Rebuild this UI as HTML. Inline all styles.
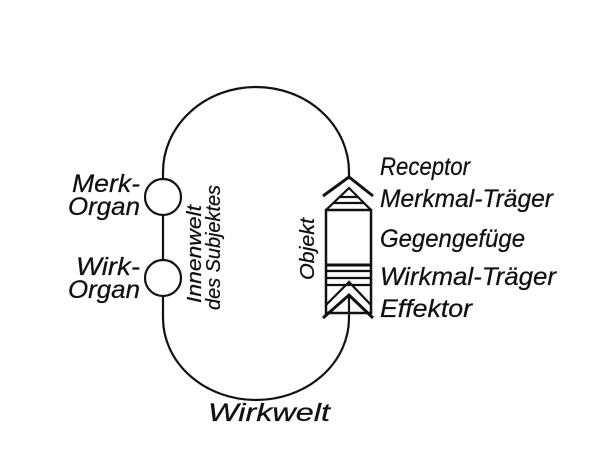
<!DOCTYPE html>
<html><head><style>
body{margin:0;background:#fff}
svg text{font-family:"Liberation Sans",sans-serif;font-style:italic;fill:#111;stroke:#111;stroke-width:0.25}
</style></head><body>
<svg width="605" height="471" viewBox="0 0 605 471" xmlns="http://www.w3.org/2000/svg">
<g fill="none" stroke="#111" stroke-width="2.2">
<path d="M163,179 L163,172 A93,85 0 0 1 349,172 L349,177"/>
<path d="M163,296 L163,318 A93,82 0 0 0 349,318 L349,294"/>
<circle cx="163" cy="197" r="18"/>
<circle cx="163" cy="278" r="18"/>
<line x1="163" y1="215" x2="163" y2="260"/>
<polyline points="323,196 349,177 373,196" stroke-width="3"/>
<rect x="326" y="210" width="45" height="103" stroke-width="2.5"/>
<polyline points="326,210 349,188 371,210"/>
<line x1="340" y1="197" x2="358" y2="197"/>
<line x1="334" y1="203" x2="364" y2="203"/>
<line x1="326" y1="265" x2="371" y2="265" stroke-width="3"/>
<line x1="326" y1="271" x2="371" y2="271"/>
<line x1="326" y1="278" x2="371" y2="278"/>
<line x1="326" y1="285" x2="371" y2="285"/>
<polyline points="326,305 349,282 371,305"/>
<polyline points="323,318 349,295 373,318" stroke-width="3"/>
</g>
<text x="380" y="175" font-size="25" textLength="90" lengthAdjust="spacingAndGlyphs">Receptor</text>
<text x="380" y="207" font-size="25" textLength="173" lengthAdjust="spacingAndGlyphs">Merkmal-Träger</text>
<text x="380" y="247" font-size="25" textLength="145" lengthAdjust="spacingAndGlyphs">Gegengefüge</text>
<text x="380" y="285" font-size="25" textLength="176" lengthAdjust="spacingAndGlyphs">Wirkmal-Träger</text>
<text x="380" y="317" font-size="25" textLength="92" lengthAdjust="spacingAndGlyphs">Effektor</text>
<text x="72" y="192" font-size="25" textLength="68" lengthAdjust="spacingAndGlyphs">Merk-</text>
<text x="68" y="215" font-size="25" textLength="72" lengthAdjust="spacingAndGlyphs">Organ</text>
<text x="76" y="275" font-size="25" textLength="64" lengthAdjust="spacingAndGlyphs">Wirk-</text>
<text x="68" y="298" font-size="25" textLength="72" lengthAdjust="spacingAndGlyphs">Organ</text>
<text transform="translate(201,303) rotate(-90)" font-size="20" textLength="98" lengthAdjust="spacingAndGlyphs">Innenwelt</text>
<text transform="translate(220,310) rotate(-90)" font-size="20" textLength="125" lengthAdjust="spacingAndGlyphs">des Subjektes</text>
<text transform="translate(314,280) rotate(-90)" font-size="20" textLength="62" lengthAdjust="spacingAndGlyphs">Objekt</text>
<text x="208" y="421" font-size="25" textLength="122" lengthAdjust="spacingAndGlyphs">Wirkwelt</text>
</svg>
</body></html>
